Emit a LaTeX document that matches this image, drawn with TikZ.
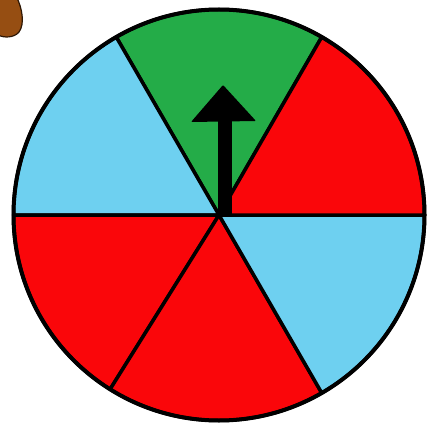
\documentclass[tikz,border=0pt]{standalone}
\usetikzlibrary{calc}
\begin{document}
\begin{tikzpicture}[x=1pt,y=1pt,
  sector/.style={draw=black,line width=3.5pt,line join=round},
  rim/.style={draw=black,line width=4pt}]
\definecolor{spgreen}{RGB}{36,172,72}
\definecolor{spred}{RGB}{250,6,10}
\definecolor{spblue}{RGB}{110,208,240}
\definecolor{spbrown}{RGB}{150,78,18}
\useasboundingbox (0,0) rectangle (430,426);
\fill[white] (0,0) rectangle (430,426);
\coordinate (c) at (219,211);
\def\R{205.5}
% brown blob
\fill[spbrown,draw=black!70!spbrown,line width=1.2pt] (-2,428) -- (17,428) .. controls (22,418) and (25,402) .. (19,394) .. controls (14,388) and (4,388) .. (-2,391) -- cycle;
% sectors
\filldraw[fill=spgreen,sector] (c) -- ++(60:\R) arc (60:120:\R) -- cycle;
\filldraw[fill=spblue,sector] (c) -- ++(120:\R) arc (120:180:\R) -- cycle;
\filldraw[fill=spred,sector] (c) -- ++(180:\R) arc (180:238:\R) -- cycle;
\filldraw[fill=spred,sector] (c) -- ++(238:\R) arc (238:300:\R) -- cycle;
\filldraw[fill=spblue,sector] (c) -- ++(300:\R) arc (300:360:\R) -- cycle;
\filldraw[fill=spred,sector] (c) -- ++(0:\R) arc (0:60:\R) -- cycle;
\draw[rim] (c) circle (\R);
% arrow
\coordinate (sb) at (225,211);
\coordinate (st) at (225,308);
\fill[black] ($(sb)+(-7,0)$) rectangle ($(st)+(7,0)$);
\fill[black,rounded corners=1pt] (191,304) -- (256,305) -- (223,341) -- cycle;
\end{tikzpicture}
\end{document}
